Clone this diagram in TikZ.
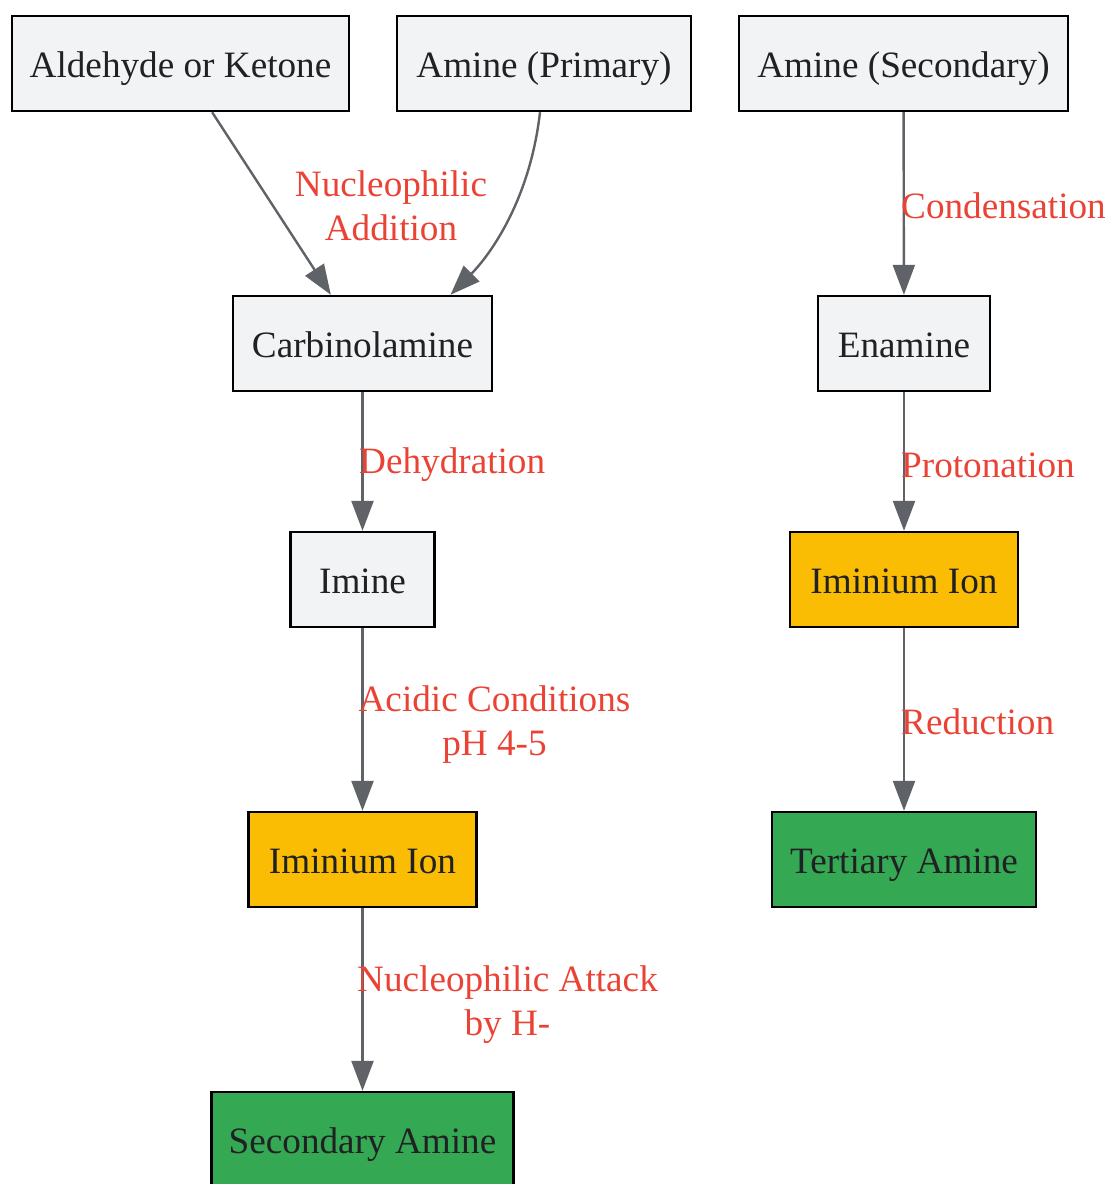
\documentclass[tikz,border=0pt]{standalone}
\usepackage{fontspec}
\setmainfont{Liberation Serif}
\usetikzlibrary{arrows.meta}
\definecolor{boxgray}{HTML}{F1F3F4}
\definecolor{boxorange}{HTML}{FBBC04}
\definecolor{boxgreen}{HTML}{34A853}
\definecolor{edgegray}{HTML}{5F6368}
\definecolor{labred}{HTML}{EA4335}
\definecolor{txt}{HTML}{202124}
\tikzset{
  box/.style={draw=black, line width=2.4pt, inner sep=0pt, minimum height=95pt,
    text height=34pt, text depth=7pt,
    text=txt, font=\fontsize{37.2}{44}\selectfont},
  gbox/.style={box, fill=boxgray},
  obox/.style={box, fill=boxorange},
  grbox/.style={box, fill=boxgreen},
  edge/.style={draw=edgegray, line width=2.4pt, -{Triangle[length=30pt,width=22pt]}},
  lab/.style={text=labred, font=\fontsize{37.2}{44}\selectfont, align=center, inner sep=0pt},
}
\begin{document}
\begin{tikzpicture}[x=1pt,y=-1pt]
\useasboundingbox (0,0) rectangle (1108,1184);
% nodes
\node[gbox, minimum width=337pt] (ald) at (180.5,63.5) {Aldehyde or Ketone};
\node[gbox, minimum width=294pt] (ampri) at (544,63.5) {Amine (Primary)};
\node[gbox, minimum width=329pt] (amsec) at (903.5,63.5) {Amine (Secondary)};
\node[gbox, minimum width=259pt] (carb) at (362.5,343.5) {Carbinolamine};
\node[gbox, minimum width=172pt] (enam) at (904,343.5) {Enamine};
\node[gbox, minimum width=144pt] (imine) at (362.5,579.5) {Imine};
\node[obox, minimum width=228pt] (imr) at (904,579.5) {Iminium Ion};
\node[obox, minimum width=228pt] (iml) at (362.5,859.5) {Iminium Ion};
\node[grbox, minimum width=264pt] (tert) at (904,859.5) {Tertiary Amine};
\node[grbox, minimum width=302pt] (sec) at (362.5,1139.5) {Secondary Amine};
% edges
\draw[edge] (ald) -- (carb);
\draw[edge] ([xshift=-4pt]ampri.south) .. controls (530,200) and (490,255) .. ([xshift=88pt]carb.north);
\draw[edge] (amsec) -- (enam);
\draw[edge] (carb) -- (imine);
\draw[edge] (enam) -- (imr);
\draw[edge] (imine) -- (iml);
\draw[edge] (imr) -- (tert);
\draw[edge] (iml) -- (sec);
% labels
\node[lab] (l1) at (391,206) {Nucleophilic\\Addition};
\node[lab, anchor=west] (l2) at (901,206) {Condensation};
\node[lab, anchor=west] (l3) at (359,465) {Dehydration};
\node[lab, anchor=west] (l4) at (901,465) {Protonation};
\node[lab] (l5) at (494.5,725) {Acidic Conditions\\pH 4-5};
\node[lab, anchor=west] (l6) at (901,722) {Reduction};
\node[lab] (l7) at (507.5,1005) {Nucleophilic Attack\\by H-};
\end{tikzpicture}
\end{document}
